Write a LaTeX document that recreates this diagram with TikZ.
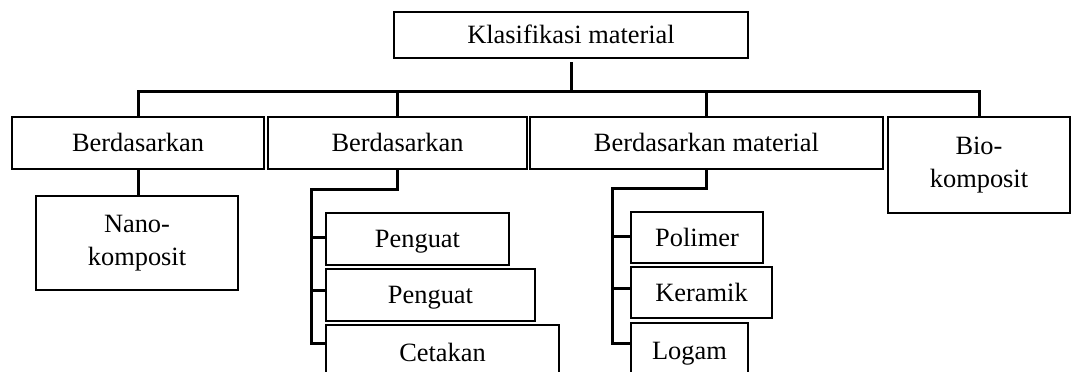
\documentclass[tikz,border=0pt]{standalone}
\usepackage{fontspec}
\setmainfont{Liberation Serif}
\begin{document}
\begin{tikzpicture}[x=1pt,y=-1pt,
  box/.style={draw=black, line width=1.3pt, rectangle, inner sep=0pt,
    font=\fontsize{26.4}{33}\selectfont, text height=17.5pt, text depth=0pt},
  mbox/.style={draw=black, line width=1.3pt, rectangle, inner sep=0pt,
    font=\fontsize{26.4}{33}\selectfont, align=center},
  conn/.style={draw=black, line width=3pt, line cap=rect, line join=miter}]
\path[use as bounding box, clip] (0,0) rectangle (1071,372);
\fill[white] (0,0) rectangle (1071,372);

% boxes
\node[box, minimum width=354pt, minimum height=46pt] (top) at (571,35) {Klasifikasi material};
\node[box, minimum width=252pt, minimum height=52pt] (b1) at (138,143) {Berdasarkan};
\node[box, minimum width=259pt, minimum height=52pt] (b2) at (397.5,143) {Berdasarkan};
\node[box, minimum width=353pt, minimum height=52pt] (b3) at (706.5,143) {Berdasarkan material};
\node[mbox, minimum width=182pt, minimum height=96pt] (b4) at (979,165) {Bio-\\komposit};
\node[mbox, minimum width=202pt, minimum height=94pt] (nano) at (137,243) {Nano-\\komposit};
\node[box, minimum width=183pt, minimum height=52pt] (p1) at (417.5,239) {Penguat};
\node[box, minimum width=209pt, minimum height=52pt] (p2) at (430.5,295) {Penguat};
\node[box, minimum width=233pt, minimum height=56pt] (cet) at (442.5,353) {Cetakan};
\node[box, minimum width=132pt, minimum height=51pt] (pol) at (697,237.5) {Polimer};
\node[box, minimum width=141pt, minimum height=51pt] (ker) at (701.5,292.5) {Keramik};
\node[box, minimum width=117pt, minimum height=56pt] (log) at (689.5,351) {Logam};

% main bus
\coordinate (bus) at (571,91);
\coordinate (topout) at ([yshift=-5pt]top.south);
\draw[conn] (topout) -- (bus);
\draw[conn] (b1.north) |- (bus) -| (b4.north);
\draw[conn] (bus -| b2.north) -- (b2.north);
\draw[conn] (bus -| b3.north) -- (b3.north);

% b1 -> nano
\draw[conn] (b1.south) -- (b1.south |- nano.north);

% b2 branches
\coordinate (s2) at (311,189);
\coordinate (p1in) at ([yshift=2pt]p1.west);
\coordinate (p2in) at ([yshift=5pt]p2.west);
\coordinate (cetin) at ([yshift=10pt]cet.west);
\draw[conn] (b2.south) |- (s2) |- (cetin);
\draw[conn] (p1in -| s2) -- (p1in);
\draw[conn] (p2in -| s2) -- (p2in);

% b3 branches
\coordinate (s3) at (612,188);
\coordinate (polin) at ([yshift=1.5pt]pol.west);
\coordinate (kerin) at ([yshift=4.5pt]ker.west);
\coordinate (login) at ([yshift=8pt]log.west);
\draw[conn] (b3.south) |- (s3) |- (login);
\draw[conn] (polin -| s3) -- (polin);
\draw[conn] (kerin -| s3) -- (kerin);
\end{tikzpicture}
\end{document}
